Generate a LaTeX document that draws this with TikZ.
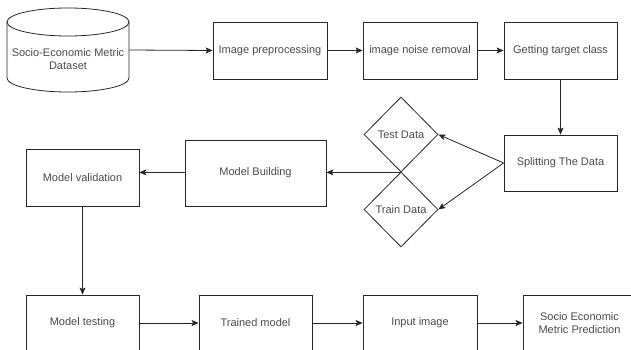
\documentclass[tikz,border=0pt]{standalone}
\usepackage{fontspec}
\setmainfont{Liberation Sans}
\usetikzlibrary{arrows.meta,shapes.geometric}
\definecolor{linec}{HTML}{262626}
\definecolor{textc}{HTML}{4A4A4A}
\tikzset{
  box/.style={draw=linec, line width=0.8pt, inner sep=0pt, text=textc, font=\fontsize{11}{13}\selectfont, align=center},
  dia/.style={draw=linec, line width=0.8pt, diamond, aspect=1, inner sep=0pt, minimum width=74pt, minimum height=75pt, text=textc, font=\fontsize{11}{13}\selectfont},
  arr/.style={draw=linec, line width=0.8pt, -{Stealth[length=7pt,width=6pt,inset=1.5pt]}},
}
\begin{document}
\begin{tikzpicture}[x=1pt,y=-1pt]
\useasboundingbox (0,0) rectangle (631,350);
\clip (0,0) rectangle (631,350);
% cylinder
\draw[linec, line width=0.8pt] (68,22) ellipse [x radius=61pt, y radius=14pt];
\draw[linec, line width=0.8pt] (7,22) -- (7,78) arc [start angle=180, end angle=360, x radius=61pt, y radius=14pt] -- (129,22);
\node[box, draw=none, minimum width=122pt, minimum height=84pt] (db) at (68,50) {};
\node[box, draw=none] (dbt) at (68,59) {Socio-Economic Metric\\Dataset};
% boxes
\node[box, minimum width=114pt, minimum height=57pt] (pre) at (270,50.5) {Image preprocessing};
\node[box, minimum width=114pt, minimum height=57pt] (noise) at (420,50.5) {image noise removal};
\node[box, minimum width=113pt, minimum height=57pt] (target) at (560.5,50.5) {Getting target class};
\node[box, minimum width=113pt, minimum height=56pt] (split) at (560.5,163) {Splitting The Data};
\node[box, minimum width=141pt, minimum height=66pt] (build) at (255.5,173) {Model Building};
\node[box, minimum width=113pt, minimum height=57pt] (valid) at (82.5,177.5) {Model validation};
\node[box, minimum width=113pt, minimum height=56pt] (test) at (82.5,323) {Model testing};
\node[box, minimum width=113pt, minimum height=56pt] (trained) at (255.5,323) {Trained model};
\node[box, minimum width=114pt, minimum height=56pt] (input) at (420,323) {Input image};
\node[box, minimum width=113pt, minimum height=56pt] (pred) at (579.5,323) {Socio Economic\\Metric Prediction};
% diamonds
\node[dia] (testd) at (401,134.5) {Test Data};
\node[dia] (traind) at (401,209.5) {Train Data};
% connectors
\draw[arr] (db.east) -- (pre.west);
\draw[arr] (pre.east) -- (noise.west);
\draw[arr] (noise.east) -- (target.west);
\draw[arr] (target.south) -- (split.north);
\draw[arr] (split.west) -- (testd.east);
\draw[arr] (split.west) -- (traind.east);
\draw[arr] (testd.south) -- (testd.south -| build.east);
\draw[arr] (build.west |- testd.south) -- (testd.south -| valid.east);
\draw[arr] (valid.south) -- (test.north);
\draw[arr] (test.east) -- (trained.west);
\draw[arr] (trained.east) -- (input.west);
\draw[arr] (input.east) -- (pred.west);
\end{tikzpicture}
\end{document}
